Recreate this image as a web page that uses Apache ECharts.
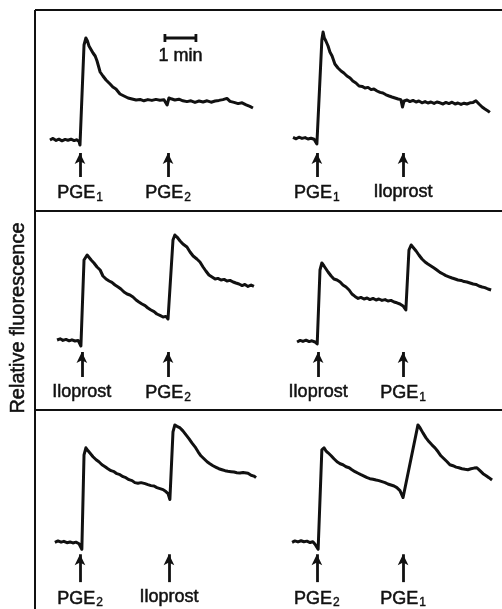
<!DOCTYPE html>
<html>
<head>
<meta charset="utf-8">
<script src="https://cdn.jsdelivr.net/npm/echarts@6/dist/echarts.min.js"></script>
<style>
  html, body { margin: 0; padding: 0; background: #fff; }
  #chart { width: 502px; height: 609px; }
</style>
</head>
<body>
<div id="chart"></div>
<script>
// traces: [time (min), relative fluorescence]
var traceTopLeft = [[0.32,35],[0.42,35.8],[0.52,34.8],[0.61,35.4],[0.71,34.6],[0.81,35.3],[0.9,34.9],[1.0,35.4],[1.1,34.7],[1.19,35.1],[1.26,34.2],[1.29,32.5],
  [1.42,82.5],[1.48,86],[1.53,84.5],[1.58,82],[1.63,82.5],[1.71,78.5],[1.78,77],[1.84,74.5],[1.94,69],[2.03,67],[2.13,65],[2.26,63],[2.35,61.5],[2.45,60.5],[2.58,58],[2.71,57],[2.84,56],[2.97,55.5],[3.1,55],[3.23,55.3],[3.35,54.6],[3.48,55.2],[3.61,54.8],[3.74,55.3],[3.87,54.9],[4.0,55.1],[4.1,52.5],[4.16,56],[4.23,55.6],[4.35,55],[4.48,55.4],[4.61,54.6],[4.74,54.2],[4.87,54.6],[5.0,53.8],[5.13,54.5],[5.26,54],[5.39,54.6],[5.52,53.9],[5.65,54.5],[5.77,54.8],[5.9,55.2],[6.03,55.8],[6.13,54.3],[6.26,53.8],[6.39,53.2],[6.52,53.6],[6.65,52.6],[6.77,51.8],[6.87,51]];
var traceTopRight = [[0.42,36.3],[0.52,35.6],[0.61,36.4],[0.71,35.8],[0.81,36.2],[0.9,35.5],[1.0,35.9],[1.1,35.4],[1.16,35.6],[1.19,33],
  [1.35,85],[1.39,89],[1.43,86],[1.48,84.5],[1.55,82],[1.61,79],[1.68,77],[1.77,73],[1.87,71],[1.97,69.5],[2.06,68.5],[2.16,67],[2.26,66],[2.35,64.5],[2.45,63.5],[2.55,62],[2.65,61.8],[2.74,61],[2.84,61.3],[2.94,60.2],[3.03,60.5],[3.13,59.5],[3.23,58.8],[3.32,58.5],[3.42,57.6],[3.52,57],[3.61,56.5],[3.71,56],[3.81,55.5],[3.9,55.2],[3.95,51.5],[4.0,54.5],[4.1,55],[4.19,54.2],[4.29,54.8],[4.39,54],[4.48,54.5],[4.58,53.6],[4.68,54.2],[4.77,53.5],[4.87,54],[4.97,53.3],[5.06,54],[5.16,53.6],[5.26,53],[5.35,53.8],[5.45,53.2],[5.55,53.9],[5.65,53],[5.74,53.5],[5.84,52.8],[5.94,53.4],[6.03,53],[6.13,53.6],[6.23,53.8],[6.32,54.6],[6.42,53],[6.52,51.5],[6.61,50.5],[6.71,49.5],[6.77,48.8]];
var traceMidLeft = [[0.55,35],[0.65,35.6],[0.74,34.8],[0.84,35.3],[0.94,34.6],[1.03,35.1],[1.13,34.5],[1.23,34.8],[1.32,32],
  [1.42,75],[1.52,77.5],[1.58,76.5],[1.65,75],[1.74,73.5],[1.84,71.5],[1.94,70],[2.03,67],[2.13,65.5],[2.23,64.5],[2.32,63.8],[2.42,62.5],[2.52,61.5],[2.61,60.5],[2.71,59],[2.81,58],[2.9,57.5],[3.0,56.5],[3.1,55],[3.19,54],[3.29,53],[3.39,52.2],[3.48,51],[3.58,50],[3.68,49.2],[3.77,48],[3.87,47.3],[3.97,46.5],[4.06,46.8],[4.13,45.5],
  [4.29,85],[4.35,87.5],[4.42,86.5],[4.52,84.5],[4.61,83],[4.74,81.5],[4.84,79],[4.94,77],[5.06,75.5],[5.16,74],[5.26,71.5],[5.35,69.5],[5.45,67.5],[5.55,66.5],[5.65,65.5],[5.74,65.8],[5.84,65],[5.94,65.3],[6.03,64.5],[6.13,64.8],[6.23,64],[6.32,63.5],[6.42,63],[6.52,62.2],[6.61,62.8],[6.71,61.8],[6.81,62.5],[6.9,61.8]];
var traceMidRight = [[0.55,34],[0.65,34.8],[0.74,34.3],[0.84,34.9],[0.94,34.2],[1.03,34.6],[1.13,34],[1.2,33],
  [1.29,70],[1.35,73.5],[1.42,72],[1.48,71.5],[1.55,69],[1.65,67],[1.74,65.5],[1.84,65],[1.94,64],[2.03,62.5],[2.13,61.5],[2.23,60],[2.32,58],[2.42,56.8],[2.52,55.8],[2.61,56.3],[2.71,55.5],[2.81,56],[2.9,55.2],[3.0,55.8],[3.1,55],[3.19,55.5],[3.29,54.8],[3.39,55.2],[3.48,54.5],[3.58,54.8],[3.68,54],[3.77,53.6],[3.87,53],[3.97,52],[4.06,50],
  [4.16,80],[4.23,82.5],[4.29,81.5],[4.39,79.5],[4.48,77.5],[4.58,75.5],[4.68,74],[4.77,73],[4.87,72],[4.97,71],[5.06,70],[5.16,68.8],[5.26,68],[5.35,67.2],[5.45,66.6],[5.55,66],[5.65,65.5],[5.74,65],[5.84,64.8],[5.94,64.2],[6.03,64],[6.13,63.5],[6.23,63],[6.32,62.8],[6.42,62],[6.52,61.5],[6.61,61.2],[6.71,60.5],[6.81,60]];
var traceLowLeft = [[0.48,33.5],[0.58,34.2],[0.68,33.6],[0.77,34],[0.87,33.3],[0.97,33.7],[1.06,33.2],[1.16,33.6],[1.26,32.8],[1.35,30],
  [1.42,77.5],[1.48,81],[1.55,79.5],[1.61,78.5],[1.71,76.5],[1.81,75],[1.9,74],[2.0,72.5],[2.1,71.5],[2.19,70.5],[2.29,69.5],[2.39,69],[2.48,68],[2.58,67.5],[2.68,66.5],[2.77,66],[2.87,65],[2.97,64.5],[3.06,63.5],[3.16,63.2],[3.26,63.5],[3.32,64],[3.39,63],[3.48,62.5],[3.58,62],[3.68,61.8],[3.77,61],[3.87,60.5],[3.97,60],[4.06,59],[4.13,58],[4.19,55],
  [4.29,89],[4.35,92.5],[4.42,91.8],[4.52,91],[4.61,89.5],[4.71,87.5],[4.81,85.5],[4.9,83.5],[5.0,81.5],[5.1,79],[5.19,77],[5.29,75.5],[5.39,74],[5.48,73],[5.58,72],[5.68,71.2],[5.77,70.5],[5.87,70],[5.97,69.5],[6.06,69.2],[6.16,69],[6.26,68.8],[6.35,68.5],[6.45,68.3],[6.55,68.6],[6.61,68.8],[6.71,68.2],[6.81,67.2],[6.9,66.8],[6.97,66]];
var traceLowRight = [[0.39,33.5],[0.48,34.2],[0.58,33.7],[0.68,34.3],[0.77,33.8],[0.87,34.1],[0.97,33.4],[1.06,33.8],[1.13,32.5],[1.23,30],
  [1.35,80],[1.42,81],[1.48,79.5],[1.55,78.5],[1.65,77],[1.74,75.5],[1.84,74],[1.94,73],[2.03,72.5],[2.13,71.5],[2.23,71],[2.32,70],[2.42,69],[2.52,68.2],[2.61,67.5],[2.71,66.8],[2.81,66],[2.9,65.5],[3.0,65.2],[3.1,64.8],[3.19,64.5],[3.29,64],[3.39,63.5],[3.48,62.8],[3.58,62.3],[3.68,61.8],[3.77,61],[3.87,59.5],[3.97,56],
  [4.45,92.5],[4.52,91],[4.61,88.5],[4.71,86],[4.81,84],[4.9,82.5],[5.0,81],[5.1,79],[5.19,77],[5.29,75.5],[5.39,74],[5.48,72.5],[5.58,72],[5.68,71.3],[5.77,71],[5.87,70.5],[5.97,70.2],[6.06,70],[6.16,70.5],[6.26,70.8],[6.35,71],[6.45,69.5],[6.55,68],[6.65,67],[6.74,66],[6.84,64.8]];

// additions: time of each arrow and the agent added
var addTimes = [[1.29, 4.13], [1.19, 3.97], [1.35, 4.13], [1.23, 3.97], [1.29, 4.16], [1.19, 3.97]];
var addAgents = [['PGE1', 'PGE2'], ['PGE1', 'Iloprost'], ['Iloprost', 'PGE2'], ['Iloprost', 'PGE1'], ['PGE2', 'Iloprost'], ['PGE2', 'PGE1']];
// arrow foot / tip in fluorescence units, one per row
var arrowFoot = [16.5, 16.5, 13.5];
var arrowTip = [28.5, 29, 27.5];

// 1 min scale bar (top-left panel)
var scaleStart = 4.03;
var scaleMinutes = 1;
var scaleLevel = 86;

var traces = [traceTopLeft, traceTopRight, traceMidLeft, traceMidRight, traceLowLeft, traceLowRight];

var chart = echarts.init(document.getElementById('chart'));
var font = '"Liberation Sans", Arial, Helvetica, sans-serif';
var ink = '#111';

function agentLabel(name) {
  return name.replace(/^PGE(\d)$/, 'PGE{s|$1}');
}

var grids = [], xAxes = [], yAxes = [], series = [];
for (var i = 0; i < 6; i++) {
  var row = Math.floor(i / 2), col = i % 2;
  grids.push({ left: col ? 280 : 40, top: 10 + row * 200, width: 217, height: 200 });
  xAxes.push({ type: 'value', gridIndex: i, min: 0, max: 7, show: false });
  yAxes.push({ type: 'value', gridIndex: i, min: 0, max: 100, show: false });
  series.push({
    type: 'line',
    xAxisIndex: i,
    yAxisIndex: i,
    data: traces[i],
    showSymbol: false,
    silent: true,
    lineStyle: { color: ink, width: 3, join: 'round' },
    markLine: {
      silent: true,
      symbol: ['none', 'arrow'],
      symbolSize: [8, 11],
      lineStyle: { type: 'solid', color: ink, width: 2.8 },
      label: {
        show: true,
        position: 'start',
        distance: 6,
        color: ink,
        fontFamily: font,
        fontSize: 18,
        textBorderColor: ink,
        textBorderWidth: 0.5,
        formatter: function (p) { return agentLabel(p.name); },
        rich: { s: { fontSize: 12, fontFamily: font, color: ink, textBorderColor: ink, textBorderWidth: 0.4, padding: [9, 0, 0, 1] } }
      },
      data: addTimes[i].map(function (t, k) {
        return [{ name: addAgents[i][k], coord: [t, arrowFoot[row]] }, { coord: [t, arrowTip[row]] }];
      })
    }
  });
}

// scale bar
series.push({
  type: 'line',
  xAxisIndex: 0,
  yAxisIndex: 0,
  showSymbol: false,
  silent: true,
  lineStyle: { color: ink, width: 2.8 },
  data: [[scaleStart, scaleLevel + 2], [scaleStart, scaleLevel - 2], [scaleStart, scaleLevel],
         [scaleStart + scaleMinutes, scaleLevel], [scaleStart + scaleMinutes, scaleLevel + 2], [scaleStart + scaleMinutes, scaleLevel - 2]],
  markPoint: {
    silent: true,
    symbol: 'circle',
    symbolSize: 0,
    label: { show: true, position: 'bottom', distance: 9, formatter: '1 min', color: ink, fontFamily: font, fontSize: 18, textBorderColor: ink, textBorderWidth: 0.5 },
    data: [{ coord: [scaleStart + scaleMinutes / 2, scaleLevel] }]
  }
});

chart.setOption({
  animation: false,
  backgroundColor: '#fff',
  grid: grids,
  xAxis: xAxes,
  yAxis: yAxes,
  series: series,
  graphic: [
    { type: 'line', shape: { x1: 35, y1: 10, x2: 35, y2: 609 }, style: { stroke: ink, lineWidth: 2 } },
    { type: 'line', shape: { x1: 35, y1: 10, x2: 502, y2: 10 }, style: { stroke: ink, lineWidth: 2 } },
    { type: 'line', shape: { x1: 35, y1: 211, x2: 502, y2: 211 }, style: { stroke: ink, lineWidth: 2 } },
    { type: 'line', shape: { x1: 35, y1: 410, x2: 502, y2: 410 }, style: { stroke: ink, lineWidth: 2 } },
    {
      type: 'text', x: 18, y: 318, rotation: Math.PI / 2,
      style: { text: 'Relative fluorescence', fill: ink, font: '20px ' + font, align: 'center', verticalAlign: 'middle', stroke: ink, lineWidth: 0.5 }
    }
  ]
});
</script>
</body>
</html>
